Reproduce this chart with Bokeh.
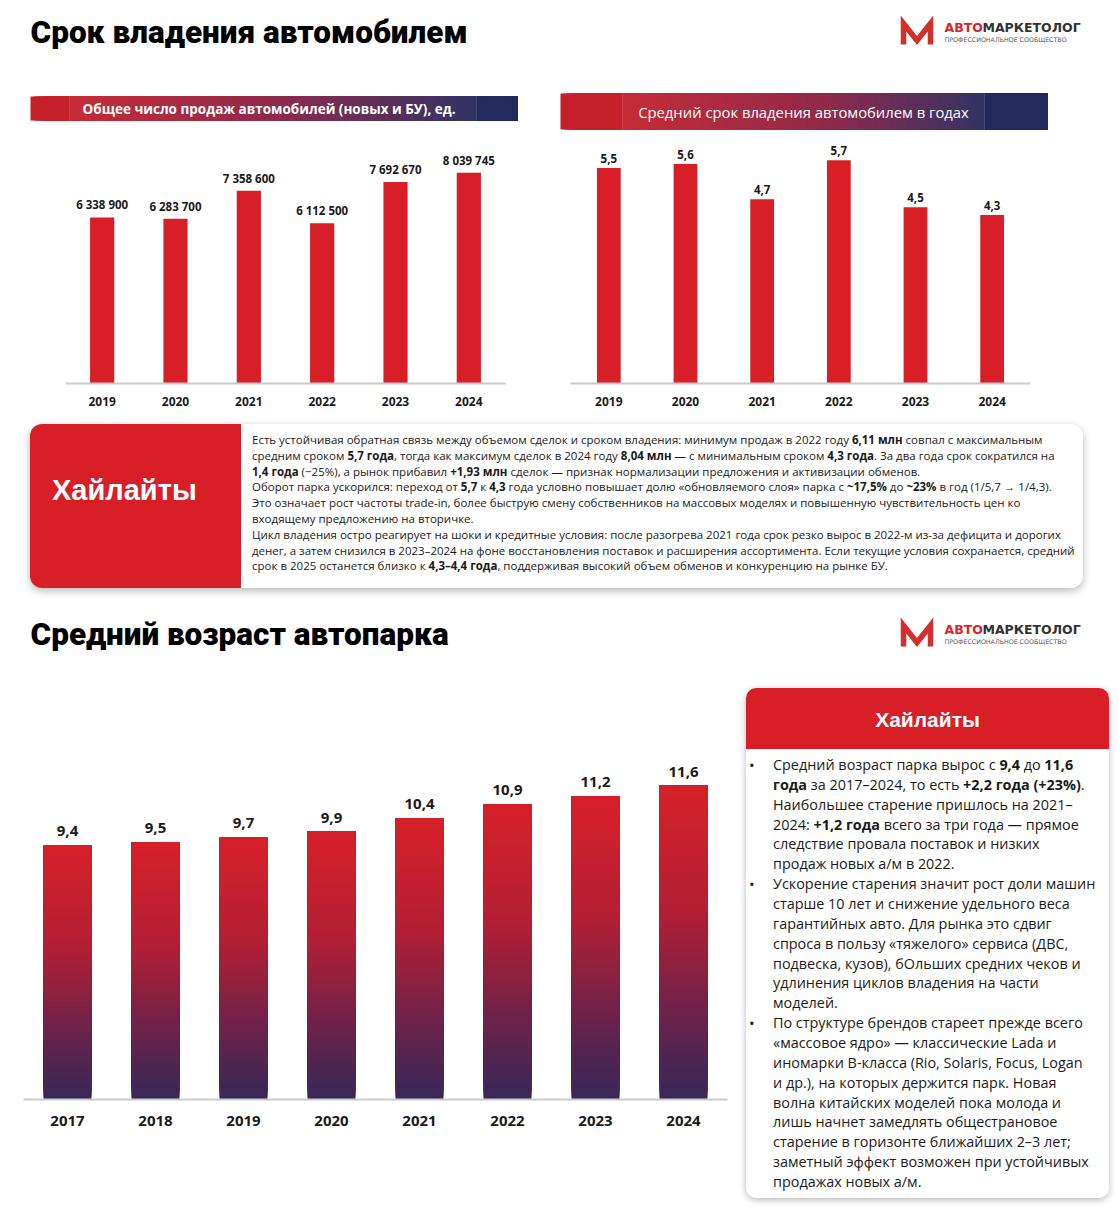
import numpy as np
from bokeh.plotting import figure
from bokeh.models import Range1d, FactorRange, Div, ColumnDataSource, LabelSet
from bokeh.layouts import column, row
from bokeh.embed import file_html
from bokeh.resources import INLINE
from bokeh.core.properties import value

# ---------------- data ----------------
sales_years = ["2019", "2020", "2021", "2022", "2023", "2024"]
sales_units = [6338900, 6283700, 7358600, 6112500, 7692670, 8039745]

own_years = ["2019", "2020", "2021", "2022", "2023", "2024"]
own_term = [5.5, 5.6, 4.7, 5.7, 4.5, 4.3]

age_years = ["2017", "2018", "2019", "2020", "2021", "2022", "2023", "2024"]
fleet_age = [9.4, 9.5, 9.7, 9.9, 10.4, 10.9, 11.2, 11.6]

title_1 = "Срок владения автомобилем"
title_2 = "Средний возраст автопарка"
banner_1 = "Общее число продаж автомобилей (новых и БУ), ед."
banner_2 = "Средний срок владения автомобилем в годах"
hl_title = "Хайлайты"
logo_a = "АВТО"
logo_b = "МАРКЕТОЛОГ"
logo_sub = "ПРОФЕССИОНАЛЬНОЕ СООБЩЕСТВО"

hl1_lines = [
    "Есть устойчивая обратная связь между объемом сделок и сроком владения: минимум продаж в 2022 году <b>6,11 млн</b> совпал с максимальным",
    "средним сроком <b>5,7 года</b>, тогда как максимум сделок в 2024 году <b>8,04 млн</b> — с минимальным сроком <b>4,3 года</b>. За два года срок сократился на",
    "<b>1,4 года</b> (−25%), а рынок прибавил <b>+1,93 млн</b> сделок — признак нормализации предложения и активизации обменов.",
    "Оборот парка ускорился: переход от <b>5,7</b> к <b>4,3</b> года условно повышает долю «обновляемого слоя» парка с <b>~17,5%</b> до <b>~23%</b> в год (1/5,7 → 1/4,3).",
    "Это означает рост частоты trade-in, более быструю смену собственников на массовых моделях и повышенную чувствительность цен ко",
    "входящему предложению на вторичке.",
    "Цикл владения остро реагирует на шоки и кредитные условия: после разогрева 2021 года срок резко вырос в 2022-м из-за дефицита и дорогих",
    "денег, а затем снизился в 2023–2024 на фоне восстановления поставок и расширения ассортимента. Если текущие условия сохранается, средний",
    "срок в 2025 останется близко к <b>4,3–4,4 года</b>, поддерживая высокий объем обменов и конкуренцию на рынке БУ.",
]

hl2_lines = [
    (True, "Средний возраст парка вырос с <b>9,4</b> до <b>11,6</b>"),
    (False, "<b>года</b> за 2017–2024, то есть <b>+2,2 года (+23%)</b>."),
    (False, "Наибольшее старение пришлось на 2021–"),
    (False, "2024: <b>+1,2 года</b> всего за три года — прямое"),
    (False, "следствие провала поставок и низких"),
    (False, "продаж новых а/м в 2022."),
    (True, "Ускорение старения значит рост доли машин"),
    (False, "старше 10 лет и снижение удельного веса"),
    (False, "гарантийных авто. Для рынка это сдвиг"),
    (False, "спроса в пользу «тяжелого» сервиса (ДВС,"),
    (False, "подвеска, кузов), бОльших средних чеков и"),
    (False, "удлинения циклов владения на части"),
    (False, "моделей."),
    (True, "По структуре брендов стареет прежде всего"),
    (False, "«массовое ядро» — классические Lada и"),
    (False, "иномарки B-класса (Rio, Solaris, Focus, Logan"),
    (False, "и др.), на которых держится парк. Новая"),
    (False, "волна китайских моделей пока молода и"),
    (False, "лишь начнет замедлять общестрановое"),
    (False, "старение в горизонте ближайших 2–3 лет;"),
    (False, "заметный эффект возможен при устойчивых"),
    (False, "продажах новых а/м."),
]

# ---------------- styles ----------------
RED = "#d81f27"
LOGO_RED = "#d3302c"
TXT = "#1a1a1a"
FONT_TITLE = value("Roboto Black, Roboto")
FONT_LBL = value("Open Sans")


def hex2rgb(h):
    h = h.lstrip("#")
    return tuple(int(h[i:i + 2], 16) for i in (0, 2, 4))


def lerp(stops, t):
    for (t0, c0), (t1, c1) in zip(stops[:-1], stops[1:]):
        if t <= t1:
            f = 0 if t1 == t0 else (t - t0) / (t1 - t0)
            f = min(max(f, 0), 1)
            a, b = hex2rgb(c0), hex2rgb(c1)
            return "#%02x%02x%02x" % tuple(int(round(a[i] + (b[i] - a[i]) * f)) for i in range(3))
    return stops[-1][1]


def canvas(w, h, top):
    p = figure(width=w, height=h, x_range=Range1d(0, w), y_range=Range1d(top + h, top),
               output_backend="svg", toolbar_location=None, min_border=0,
               outline_line_color=None)
    p.xaxis.visible = False
    p.yaxis.visible = False
    p.grid.visible = False
    p.margin = 0
    return p


def banner(p, x0, x1, y0, y1, inner, stops, label, lx, align, size, style):
    n = 160
    xs = np.linspace(x0, x1, n + 1)
    cols = [lerp(stops, (i + 0.5) / n) for i in range(n)]
    # overlapping strips (each runs to the right end) -> no seams
    p.quad(left=xs[:-1], right=[x1] * n, top=y0, bottom=y1, fill_color=cols, line_color=None)
    p.quad(left=inner[0], right=inner[1], top=y0 - 1, bottom=y1 + 1, fill_color="white",
           fill_alpha=0.05, line_color="white", line_alpha=0.12, line_width=1)
    p.text(x=[lx], y=[(y0 + y1) / 2], text=[label], text_font=FONT_LBL, text_font_size=size,
           text_font_style=style, text_color="white", text_align=align, text_baseline="middle")


def logo(p, ytop):
    p.line([903, 903, 916.5, 930, 930], [ytop + 24, ytop + 3, ytop + 20, ytop + 3, ytop + 24],
           line_width=5.5, line_color=LOGO_RED, line_join="miter")
    p.text(x=[944], y=[ytop + 7], text=[logo_a], text_font=value("DejaVu Sans"), text_font_style="bold",
           text_font_size="12.5px", text_color="#d8262a", text_align="left", text_baseline="middle")
    p.text(x=[982], y=[ytop + 7], text=[logo_b], text_font=value("DejaVu Sans"), text_font_style="bold",
           text_font_size="12.5px", text_color="#333333", text_align="left", text_baseline="middle")
    p.text(x=[944], y=[ytop + 19], text=[logo_sub], text_font=value("DejaVu Sans"),
           text_font_size="6.3px", text_color="#555555", text_align="left", text_baseline="middle")


# ---------------- header 1 ----------------
h1 = canvas(1119, 135, 0)
h1.text(x=[30], y=[32], text=[title_1], text_font=FONT_TITLE, text_font_style="bold",
        text_font_size="31.5px", text_color="black", text_align="left", text_baseline="middle")
logo(h1, 20)
st1 = [(0, "#c4212b"), (0.08, "#c4212b"), (0.5, "#8a1f42"), (0.92, "#24295e"), (1, "#24295e")]
banner(h1, 30, 517, 96, 120, (69, 476), st1, banner_1, 82, "left", "13.5px", "bold")
st2 = [(0, "#c4212b"), (0.12, "#c4212b"), (0.55, "#8a1f42"), (0.88, "#24295e"), (1, "#24295e")]
banner(h1, 560, 1047, 93, 129, (622, 984), st2, banner_2, 803, "center", "14.8px", "normal")


# ---------------- bar charts ----------------
def bar_chart(cats, width, height, top_win, left_b, frame_w, base_win, ymax, year_size, standoff):
    frame_h = base_win - top_win
    p = figure(x_range=FactorRange(*cats), y_range=Range1d(0, ymax), width=width, height=height,
               min_border_left=left_b, min_border_right=width - left_b - frame_w,
               min_border_top=0, min_border_bottom=height - frame_h,
               output_backend="svg", toolbar_location=None, outline_line_color=None)
    p.margin = 0
    p.yaxis.visible = False
    p.grid.visible = False
    ax = p.xaxis[0]
    ax.axis_line_color = "#c9c9c9"
    ax.axis_line_width = 2
    ax.major_tick_line_color = None
    ax.minor_tick_line_color = None
    ax.major_label_text_font = "Open Sans"
    ax.major_label_text_font_style = "bold"
    ax.major_label_text_font_size = year_size
    ax.major_label_text_color = TXT
    ax.major_label_standoff = standoff
    return p


def value_labels(p, cats, vals, texts, size, off):
    src = ColumnDataSource(dict(x=cats, y=vals, t=texts))
    p.add_layout(LabelSet(x="x", y="y", text="t", source=src, text_align="center",
                          text_baseline="bottom", y_offset=off, text_font=FONT_LBL,
                          text_font_style="bold", text_font_size=size, text_color=TXT))


c1 = bar_chart(sales_years, 545, 285, 135, 65, 440, 383, 9.466e6, "12px", 7)
c1.vbar(x=sales_years, top=sales_units, width=0.33, fill_color=RED, line_color=None)
value_labels(c1, sales_years, sales_units, [f"{v:,}".replace(",", " ") for v in sales_units], "11.5px", 5)

c2 = bar_chart(own_years, 574, 285, 135, 25, 460, 383, 6.33, "12px", 7)
c2.vbar(x=own_years, top=own_term, width=0.31, fill_color=RED, line_color=None)
value_labels(c2, own_years, own_term, [f"{v:.1f}".replace(".", ",") for v in own_term], "11.5px", 5)

# ---------------- highlights 1 ----------------
rows1 = "".join(
    f'<div style="position:absolute;left:222px;top:{8 + i * 15.8:.1f}px;height:16px;line-height:16px;'
    f'white-space:nowrap;">{ln}</div>' for i, ln in enumerate(hl1_lines))
html1 = (
    '<div style="position:relative;width:1119px;height:183px;font-family:\'Open Sans\';">'
    '<div style="position:absolute;left:30px;top:4px;width:1053px;height:164px;border-radius:12px;'
    'background:#ffffff;box-shadow:0 3px 8px rgba(0,0,0,0.28);overflow:hidden;color:#1a1a1a;font-size:11.5px;">'
    f'<div style="position:absolute;left:0;top:0;width:211px;height:164px;background:{RED};"></div>'
    '<div style="position:absolute;left:22px;top:48px;line-height:36px;font-size:29px;font-weight:bold;'
    f'color:#ffffff;font-family:\'Liberation Sans\';">{hl_title}</div>'
    f'{rows1}</div></div>')
hl1 = Div(text=html1, width=1119, height=183, margin=0)

# ---------------- header 2 ----------------
h2 = canvas(1119, 77, 603)
h2.text(x=[30], y=[634], text=[title_2], text_font=FONT_TITLE, text_font_style="bold",
        text_font_size="31.5px", text_color="black", text_align="left", text_baseline="middle")
logo(h2, 622)

# ---------------- fleet age chart ----------------
c3 = bar_chart(age_years, 745, 534, 680, 23, 704, 1099, 15.48, "15px", 10)
N = 80
grad = [(0, "#35285a"), (0.28, "#6e2249"), (0.6, "#b31f35"), (1.0, "#d6202a")]
gx, gb, gt, gc = [], [], [], []
for cat, v in zip(age_years, fleet_age):
    for k in range(N):
        gx.append(cat)
        gb.append(v * k / N)
        gt.append(v)  # overlapping strips drawn bottom-up -> no seams
        gc.append(lerp(grad, (k + 0.5) / N))
c3.vbar(x=gx, bottom=gb, top=gt, width=0.545, fill_color=gc, line_color=None)
value_labels(c3, age_years, fleet_age, [f"{v:.1f}".replace(".", ",") for v in fleet_age], "15px", 9)

# ---------------- highlights 2 ----------------
rows2 = ""
for i, (bul, ln) in enumerate(hl2_lines):
    top = 67 + i * 19.85
    if bul:
        rows2 += (f'<div style="position:absolute;left:3px;top:{top:.1f}px;line-height:20px;'
                  f'font-size:15px;">•</div>')
    rows2 += (f'<div style="position:absolute;left:27px;top:{top:.1f}px;line-height:20px;'
              f'white-space:nowrap;">{ln}</div>')
html2 = (
    '<div style="position:relative;width:374px;height:534px;font-family:\'Open Sans\';">'
    '<div style="position:absolute;left:1px;top:8px;width:363px;height:510px;border-radius:10px;'
    'background:#ffffff;box-shadow:0 2px 7px rgba(0,0,0,0.28);overflow:hidden;color:#1a1a1a;font-size:14.4px;">'
    f'<div style="position:absolute;left:0;top:0;width:363px;height:61px;background:{RED};"></div>'
    '<div style="position:absolute;left:0;top:17px;width:363px;text-align:center;line-height:30px;'
    f'font-size:21px;font-weight:bold;color:#ffffff;font-family:\'Liberation Sans\';">{hl_title}</div>'
    f'{rows2}</div></div>')
hl2 = Div(text=html2, width=374, height=534, margin=0)

page = column(h1, row(c1, c2, spacing=0), hl1, h2, row(c3, hl2, spacing=0), spacing=0)

open("out.html", "w").write(file_html(page, INLINE))
